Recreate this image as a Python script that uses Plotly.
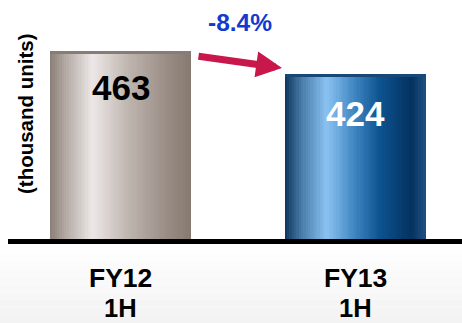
import plotly.graph_objects as go
import numpy as np

categories = ["FY12", "FY13"]
sub_labels = ["1H", "1H"]
values = [463, 424]
change_label = "-8.4%"
y_title = "(thousand units)"

FONT = "Liberation Sans, Arial, sans-serif"
W, H = 462, 323
PLOT_BOTTOM = 239  # px
Y_RANGE = [144.2, 549.5]
X_RANGE = [-120.5 / 234.5, (W - 120.5) / 234.5]
BAR_W = 0.601
N = 60

def interp(stops, t):
    for (t0, c0), (t1, c1) in zip(stops[:-1], stops[1:]):
        if t0 <= t <= t1:
            f = (t - t0) / (t1 - t0) if t1 > t0 else 0
            c = [round(a + (b - a) * f) for a, b in zip(c0, c1)]
            return "rgb(%d,%d,%d)" % tuple(c)
    return "rgb(%d,%d,%d)" % tuple(stops[-1][1])

grad_stops = [
    [(0.0, (138, 126, 118)), (0.1, (176, 166, 160)), (0.3, (236, 232, 231)),
     (0.55, (192, 182, 176)), (0.85, (150, 138, 130)), (1.0, (134, 121, 112))],
    [(0.0, (14, 52, 92)), (0.12, (72, 124, 168)), (0.3, (138, 194, 242)),
     (0.5, (62, 132, 192)), (0.68, (12, 82, 142)), (0.9, (4, 50, 96)), (1.0, (30, 80, 128))],
]
cap_colors = ["rgb(135,125,118)", "rgb(24,72,118)"]

fig = go.Figure()
for i, (cat, v) in enumerate(zip(categories, values)):
    offs = [-BAR_W / 2 + k * BAR_W / N for k in range(N)]
    cols = [interp(grad_stops[i], (k + 0.5) / N) for k in range(N)]
    fig.add_trace(go.Bar(
        x=[i] * N, y=[v - Y_RANGE[0]] * N, base=Y_RANGE[0],
        offset=offs, width=BAR_W / N + 0.001,
        marker=dict(color=cols, line=dict(width=0)),
        hoverinfo="skip", showlegend=False))
    cap = 4.5
    fig.add_trace(go.Bar(
        x=[i], y=[cap], base=[v - cap], width=BAR_W,
        marker=dict(color=cap_colors[i], line=dict(width=0)),
        hoverinfo="skip", showlegend=False))

annotations = []
label_colors = ["black", "white"]
label_shift = [-36, -39]
for i, v in enumerate(values):
    annotations.append(dict(
        x=i, y=v, xref="x", yref="y", text="<b>%d</b>" % v, showarrow=False,
        yshift=label_shift[i], yanchor="middle",
        font=dict(family=FONT, size=35, color=label_colors[i])))
    annotations.append(dict(
        x=i, y=-(278 - PLOT_BOTTOM) / PLOT_BOTTOM, xref="x", yref="paper",
        text="<b>%s</b>" % categories[i], showarrow=False, yanchor="middle",
        borderpad=0,
        font=dict(family=FONT, size=26.5, color="black")))
    annotations.append(dict(
        x=i, y=-(323 - PLOT_BOTTOM) / PLOT_BOTTOM, xref="x", yref="paper",
        text="<b>%s</b>" % sub_labels[i], showarrow=False, yanchor="bottom",
        borderpad=0,
        font=dict(family=FONT, size=25.5, color="black")))

# change label
annotations.append(dict(
    x=239.5 / W, y=1 - 22.5 / PLOT_BOTTOM, xref="paper", yref="paper",
    text="<b>%s</b>" % change_label, showarrow=False, yanchor="middle",
    font=dict(family=FONT, size=24.5, color="#1339d0")))
# arrow
annotations.append(dict(
    x=282 / W, y=1 - 68 / PLOT_BOTTOM, xref="paper", yref="paper",
    ax=197 - 282, ay=56 - 68, axref="pixel", ayref="pixel",
    text="", showarrow=True, arrowhead=2, arrowwidth=7, arrowsize=0.74,
    arrowcolor="#c8174a"))
# y title
annotations.append(dict(
    x=25 / W, y=1 - 114 / PLOT_BOTTOM, xref="paper", yref="paper",
    text="<b>%s</b>" % y_title, showarrow=False, textangle=-90,
    xanchor="center", yanchor="middle",
    font=dict(family=FONT, size=20.5, color="black")))

shapes = []
# subtle bottom background gradient
nb = 10
for k in range(nb):
    y0 = 246 + k * (H - 246) / nb
    y1 = 246 + (k + 1) * (H - 246) / nb
    g = round(255 - (k + 1) * 1.2)
    shapes.append(dict(type="rect", xref="paper", yref="paper", layer="below",
                       x0=0, x1=1, y0=1 - y1 / PLOT_BOTTOM, y1=1 - y0 / PLOT_BOTTOM,
                       fillcolor="rgb(%d,%d,%d)" % (g, g, g), line=dict(width=0)))
# baseline
shapes.append(dict(type="line", xref="paper", yref="paper",
                   x0=8 / W, x1=1, y0=1 - 241.5 / PLOT_BOTTOM, y1=1 - 241.5 / PLOT_BOTTOM,
                   line=dict(color="black", width=5)))

fig.update_layout(
    width=W, height=H, margin=dict(l=0, r=0, t=0, b=H - PLOT_BOTTOM),
    paper_bgcolor="white", plot_bgcolor="rgba(0,0,0,0)",
    barmode="overlay", bargap=0,
    xaxis=dict(range=X_RANGE, visible=False, fixedrange=True),
    yaxis=dict(range=Y_RANGE, visible=False, fixedrange=True),
    annotations=annotations, shapes=shapes, showlegend=False,
)
fig.write_html("out.html", config={"displayModeBar": False})
